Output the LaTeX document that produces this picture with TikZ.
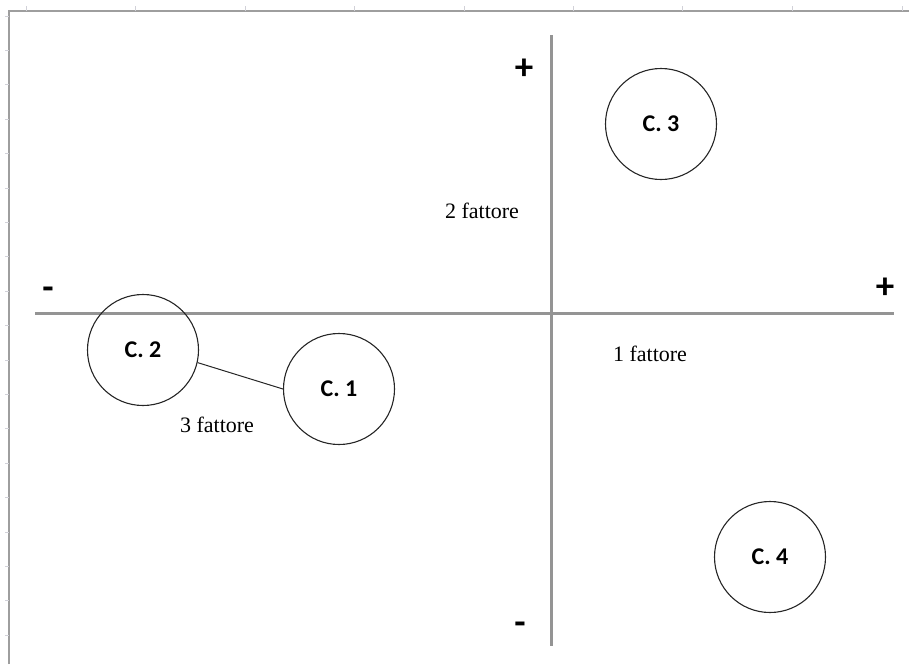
\documentclass[tikz,border=0pt]{standalone}
\usepackage{fontspec}
\setmainfont{Liberation Serif}
\newfontfamily\calib{Carlito}
\begin{document}
\begin{tikzpicture}[x=1pt,y=-1pt,
  cnode/.style={circle,draw=black!85,line width=1.1pt,minimum size=111pt,inner sep=0pt,font=\calib\bfseries\fontsize{24}{24}\selectfont},
  axisline/.style={draw=black!42,line width=3pt},
  flabel/.style={font=\fontsize{22}{22}\selectfont,anchor=base,inner sep=0pt},
  sign/.style={font=\calib\bfseries\fontsize{37}{37}\selectfont,anchor=base,inner sep=0pt},
  tickmark/.style={draw=blue!15!black!18,line width=0.8pt},
  frameline/.style={draw=black!38,line width=2pt},
  link/.style={draw=black!85,line width=1pt}]
\useasboundingbox (0,0) rectangle (909,664);
% frame and ticks
\coordinate (fb) at (9,664);
\coordinate (fc) at (9,11);
\coordinate (fr) at (909,11);
\draw[frameline] (fb) -- (fc) -- (fr);
\foreach \x in {26,135,245,354,464,573,682,792,902}
  \draw[tickmark] (\x,6) -- (\x,11);
\foreach \k in {0,...,18}
  \draw[tickmark] (5,{16+34.4*\k}) -- (9,{16+34.4*\k});
% axes
\coordinate (hl) at (35,313);
\coordinate (hr) at (894,313);
\coordinate (vt) at (551,35);
\coordinate (vb) at (551,646);
\draw[axisline] (hl) -- (hr);
\draw[axisline] (vt) -- (vb);
% signs
\node[sign] (ptop) at (524,79) {+};
\node[sign] (pright) at (885,298) {+};
\node[sign] (mleft) at (48,299) {-};
\node[sign] (mbottom) at (520,634) {-};
% factor labels
\node[flabel] (f2) at (482,218) {2 fattore};
\node[flabel] (f1) at (650,361) {1 fattore};
\node[flabel] (f3) at (217,432) {3 fattore};
% clusters
\node[cnode] (c2) at (143,350) {C. 2};
\node[cnode] (c1) at (339,389) {C. 1};
\node[cnode] (c3) at (661,124) {C. 3};
\node[cnode] (c4) at (770,557) {C. 4};
\draw[link] (c2.-13) -- (c1.180);
\end{tikzpicture}
\end{document}
